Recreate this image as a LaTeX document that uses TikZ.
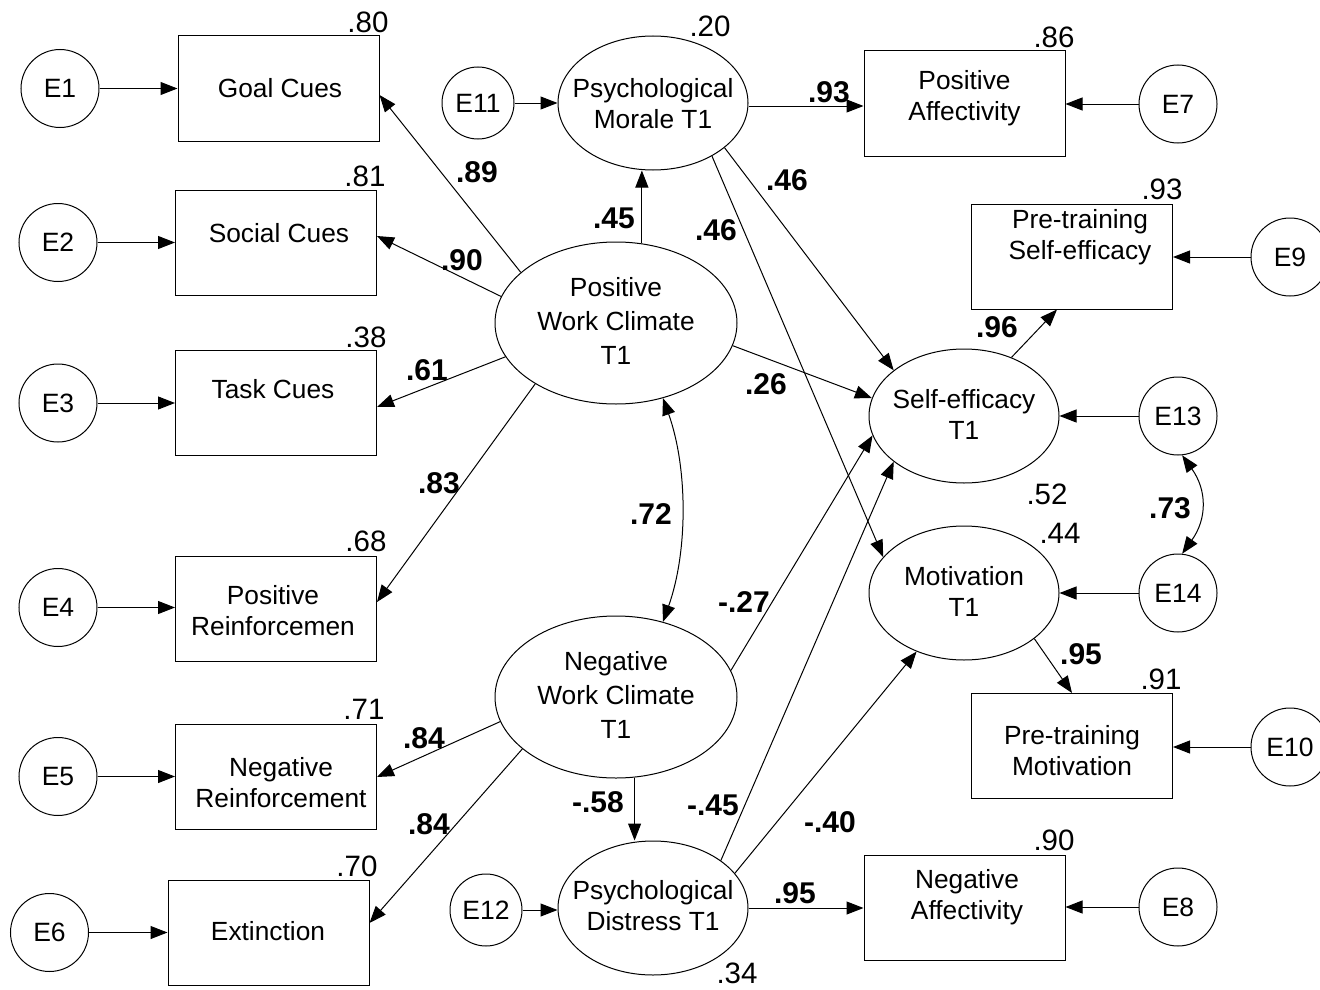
\documentclass[tikz,border=0pt]{standalone}
\usepackage{fontspec}
\setmainfont{Liberation Sans}
\usetikzlibrary{shapes.geometric,arrows.meta}
\begin{document}
\begin{tikzpicture}[x=1pt,y=-1pt,line width=1pt,
  err/.style={circle,draw,minimum size=78pt,inner sep=0pt,font=\fontsize{26.5}{30}\selectfont},
  errs/.style={err,minimum size=72pt},
  obs/.style={rectangle,draw,minimum width=201pt,minimum height=105pt,inner sep=0pt},
  lat/.style={ellipse,draw,minimum width=190pt,minimum height=134pt,inner sep=0pt},
  wc/.style={ellipse,draw,minimum width=242pt,minimum height=162pt,inner sep=0pt},
  lbl/.style={inner sep=0pt,align=center,anchor=base,font=\fontsize{26.3}{30.5}\selectfont},
  lbl3/.style={lbl,font=\fontsize{26.3}{34}\selectfont},
  rsq/.style={inner sep=0pt,font=\fontsize{29.5}{30}\selectfont},
  coef/.style={inner sep=0pt,font=\fontsize{30}{30}\selectfont\bfseries},
  arr/.style={-{Triangle[length=17pt,width=13pt]}},
  dbl/.style={{Triangle[length=17pt,width=13pt]}-{Triangle[length=17pt,width=13pt]}}]
\useasboundingbox (0,0) rectangle (1320,990);

% indicator boxes
\node[obs] (goal) at (278.5,88.5) {};
\node[obs] (soc)  at (276,242.5) {};
\node[obs] (task) at (276,403) {};
\node[obs] (posr) at (276,608.5) {};
\node[obs] (negr) at (276,777) {};
\node[obs] (ext)  at (268.5,932.5) {};
\node[obs] (pa)   at (964.5,103.5) {};
\node[obs] (pse)  at (1072,256.5) {};
\node[obs] (ptm)  at (1072,746) {};
\node[obs] (na)   at (964.5,907.5) {};

% box captions (placed at the baseline of their last line)
\node[lbl] (goal-t) at (280,97) {Goal Cues};
\node[lbl] (soc-t)  at (279,242) {Social Cues};
\node[lbl] (task-t) at (273,398) {Task Cues};
\node[lbl] (posr-t) at (273,635) {Positive\\Reinforcemen};
\node[lbl] (negr-t) at (281,807) {Negative\\Reinforcement};
\node[lbl] (ext-t)  at (268,940) {Extinction};
\node[lbl] (pa-t)   at (964.5,120) {Positive\\Affectivity};
\node[lbl] (pse-t)  at (1080,259) {Pre-training\\Self-efficacy};
\node[lbl] (ptm-t)  at (1072,775) {Pre-training\\Motivation};
\node[lbl] (na-t)   at (967,919) {Negative\\Affectivity};

% latent variables
\node[lat] (mor) at (653,103) {};
\node[wc]  (pwc) at (616,323) {};
\node[wc]  (nwc) at (616,697) {};
\node[lat] (dis) at (653,908) {};
\node[lat] (se)  at (964,416) {};
\node[lat] (mot) at (964,593) {};

\node[lbl]  (mor-t) at (653,128) {Psychological\\Morale T1};
\node[lbl3] (pwc-t) at (616,364) {Positive\\Work Climate\\T1};
\node[lbl3] (nwc-t) at (616,738) {Negative\\Work Climate\\T1};
\node[lbl]  (dis-t) at (653,930) {Psychological\\Distress T1};
\node[lbl]  (se-t)  at (964,439) {Self-efficacy\\T1};
\node[lbl]  (mot-t) at (964,616) {Motivation\\T1};

% error terms
\node[err] (e1) at (60,88.5) {E1};
\node[err] (e2) at (58,242.5) {E2};
\node[err] (e3) at (58,403) {E3};
\node[err] (e4) at (58,607.5) {E4};
\node[err] (e5) at (58,776.5) {E5};
\node[err] (e6) at (49.5,932.5) {E6};
\node[err] (e7) at (1178,104) {E7};
\node[err] (e8) at (1178,907) {E8};
\node[err] (e9) at (1290,257) {E9};
\node[err] (e10) at (1290,747) {E10};
\node[errs] (e11) at (478,103) {E11};
\node[errs] (e12) at (486,910) {E12};
\node[err] (e13) at (1178,416) {E13};
\node[err] (e14) at (1178,593) {E14};

% error paths
\draw[arr] (e1.east) -- (e1.east -| goal.west);
\draw[arr] (e2.east) -- (e2.east -| soc.west);
\draw[arr] (e3.east) -- (e3.east -| task.west);
\draw[arr] (e4.east) -- (e4.east -| posr.west);
\draw[arr] (e5.east) -- (e5.east -| negr.west);
\draw[arr] (e6.east) -- (e6.east -| ext.west);
\draw[arr] (e7.west) -- (e7.west -| pa.east);
\draw[arr] (e8.west) -- (e8.west -| na.east);
\draw[arr] (e9.west) -- (e9.west -| pse.east);
\draw[arr] (e10.west) -- (e10.west -| ptm.east);
\draw[arr] (e11.east) -- (e11.east -| mor.west);
\draw[arr] (e12.east) -- (e12.east -| dis.west);
\draw[arr] (e13.west) -- (e13.west -| se.east);
\draw[arr] (e14.west) -- (e14.west -| mot.east);

% loadings
\draw[arr] (pwc.152) -- ([yshift=-6.5pt]goal.east);
\draw[arr] (pwc.167) -- ([yshift=6.5pt]soc.east);
\draw[arr] (pwc.197.7) -- ([yshift=-4pt]task.east);
\draw[arr] (pwc.217) -- ([yshift=6.5pt]posr.east);
\draw[arr] (nwc.192.2) -- (negr.east);
\draw[arr] (nwc.209.4) -- ([yshift=9.5pt]ext.east);
\draw[arr] ([yshift=-3pt]mor.east) -- ([yshift=-3pt]mor.east -| pa.west);
\draw[arr] (dis.east) -- (dis.east -| na.west);
\draw[arr] (se.51.8) -- ([xshift=-15pt]pse.south);
\draw[arr] (mot.-33.5) -- (ptm.north);

% structural paths
\draw[arr] (pwc.72) -- (pwc.72 |- mor.south);
\draw[arr] (nwc.-77) -- (nwc.-77 |- dis.north);
\draw[arr] (mor.-32.4) -- (se.147.4);
\draw[arr] (mor.-42.5) -- (mot.156.6);
\draw[arr] (pwc.-11.7) -- (se.169.7);
\draw[arr] (nwc.13.1) -- (se.192.6);
\draw[arr] (dis.35.6) -- (se.213.5);
\draw[arr] (dis.23.2) -- (mot.231.4);

% correlations
\draw[dbl] (pwc.-58.6) .. controls +(25,70) and +(25,-70) .. (nwc.58.6);
\draw[dbl] (e13.-84) .. controls +(25,35) and +(25,-35) .. (e14.84);

% squared multiple correlations
\node[rsq] (r-goal) at (368,22) {.80};
\node[rsq] (r-soc)  at (365,176) {.81};
\node[rsq] (r-task) at (366,337) {.38};
\node[rsq] (r-posr) at (366,541) {.68};
\node[rsq] (r-negr) at (364,709) {.71};
\node[rsq] (r-ext)  at (357,866) {.70};
\node[rsq] (r-mor)  at (710,26) {.20};
\node[rsq] (r-pa)   at (1054,37) {.86};
\node[rsq] (r-pse)  at (1162,189) {.93};
\node[rsq] (r-se)   at (1047,494) {.52};
\node[rsq] (r-mot)  at (1060,533) {.44};
\node[rsq] (r-ptm)  at (1161,679) {.91};
\node[rsq] (r-na)   at (1054,840) {.90};
\node[rsq] (r-dis)  at (737,973) {.34};

% path coefficients
\node[coef] (c1)  at (477,172) {.89};
\node[coef] (c2)  at (462,260) {.90};
\node[coef] (c3)  at (427,370) {.61};
\node[coef] (c4)  at (439,483) {.83};
\node[coef] (c5)  at (424,738) {.84};
\node[coef] (c6)  at (429,824) {.84};
\node[coef] (c7)  at (614,218) {.45};
\node[coef] (c8)  at (829,92) {.93};
\node[coef] (c9)  at (787,180) {.46};
\node[coef] (c10) at (716,230) {.46};
\node[coef] (c11) at (766,384) {.26};
\node[coef] (c12) at (651,514) {.72};
\node[coef] (c13) at (744,602) {-.27};
\node[coef] (c14) at (997,327) {.96};
\node[coef] (c15) at (1170,508) {.73};
\node[coef] (c16) at (1081,654) {.95};
\node[coef] (c17) at (598,802) {-.58};
\node[coef] (c18) at (713,805) {-.45};
\node[coef] (c19) at (830,822) {-.40};
\node[coef] (c20) at (795,893) {.95};
\end{tikzpicture}
\end{document}
